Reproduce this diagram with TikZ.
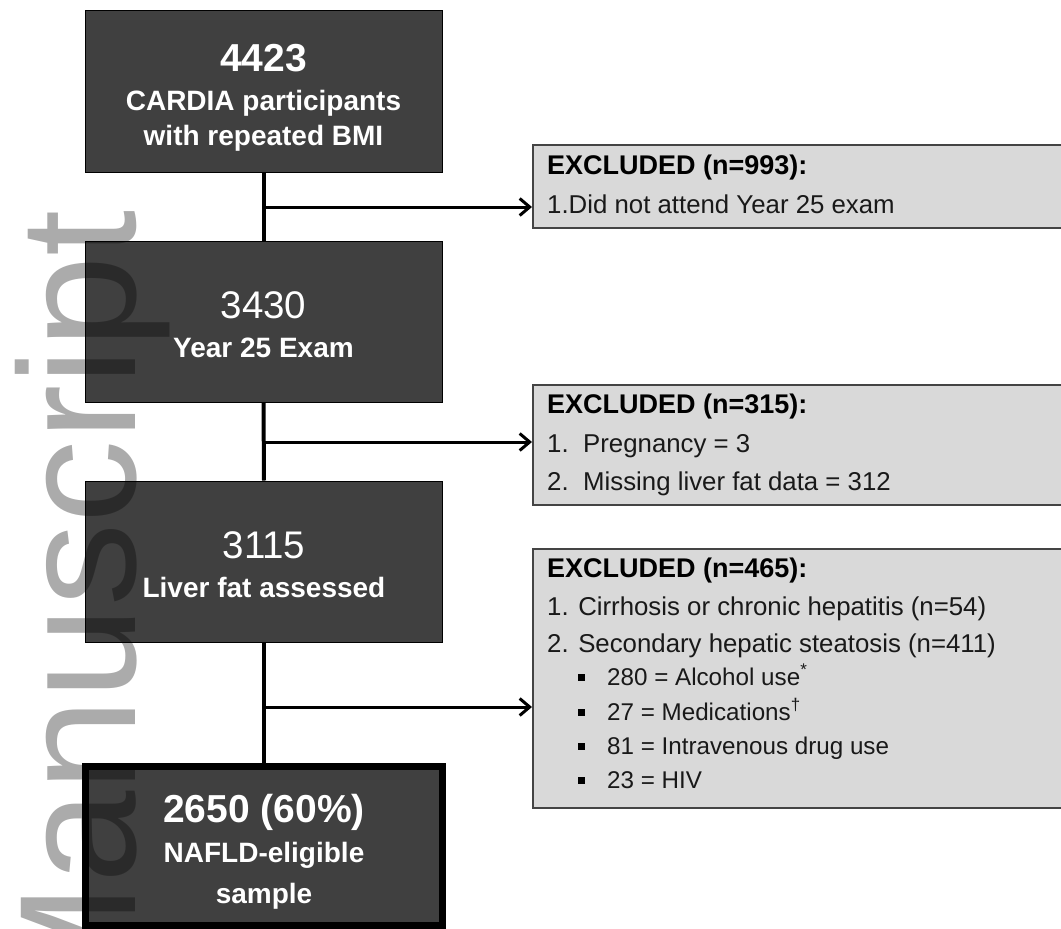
\documentclass[tikz,border=0pt]{standalone}
\usepackage{fontspec}
\setmainfont{Liberation Sans}
\usetikzlibrary{arrows.meta}
\definecolor{darkbox}{HTML}{404040}
\definecolor{lightbox}{HTML}{D9D9D9}
\definecolor{lightedge}{HTML}{444444}
\tikzset{
  stagebox/.style={draw=black, line width=1pt, fill=darkbox, inner sep=0pt,
    minimum width=357pt, minimum height=161pt},
  finalbox/.style={draw=black, line width=7pt, fill=darkbox, inner sep=0pt,
    minimum width=357pt, minimum height=159pt},
  exbox/.style={draw=lightedge, line width=1.8pt, fill=lightbox, inner sep=0pt,
    minimum width=600pt, anchor=north west},
  numbold/.style={text=white, anchor=base, inner sep=0pt,
    font=\fontsize{39}{39}\selectfont\bfseries},
  numreg/.style={text=white, anchor=base, inner sep=0pt,
    font=\fontsize{38.5}{39}\selectfont},
  lblbold/.style={text=white, anchor=base, inner sep=0pt,
    font=\fontsize{28}{28}\selectfont\bfseries},
  exhead/.style={text=black, anchor=base west, inner sep=0pt,
    font=\fontsize{27}{27}\selectfont\bfseries},
  exitem/.style={text=black!90, anchor=base west, inner sep=0pt,
    font=\fontsize{25.8}{26}\selectfont},
  subitem/.style={text=black!90, anchor=base west, inner sep=0pt,
    font=\fontsize{24.2}{24}\selectfont},
  sqbullet/.style={fill=black, inner sep=0pt, minimum size=7pt},
  vline/.style={draw=black, line width=4pt},
  exarrow/.style={draw=black, line width=3pt,
    -{Straight Barb[length=10pt,width=17pt,line width=3pt]}},
  watermark/.style={rotate=90, anchor=base east, inner sep=0pt, text=black,
    text opacity=0.33, font=\fontsize{166}{166}\selectfont}
}
\begin{document}
\begin{tikzpicture}[x=1pt,y=-1pt]
\useasboundingbox (0,0) rectangle (1061,929);
\clip (0,0) rectangle (1061,929);
\fill[white] (0,0) rectangle (1061,929);

% main flow boxes
\node[stagebox, minimum height=162pt] (b1) at (263.5,91) {};
\node[stagebox] (b2) at (263.5,321.5) {};
\node[stagebox] (b3) at (264,561.5) {};
\node[finalbox] (b4) at (264,846) {};

\node[numbold] (t1a) at (263.5,71) {4423};
\node[lblbold] (t1b) at (263.5,110) {CARDIA participants};
\node[lblbold] (t1c) at (263.5,145) {with repeated BMI};
\node[numreg] (t2a) at (263.5,318) {3430};
\node[lblbold] (t2b) at (263.5,357) {Year 25 Exam};
\node[numreg] (t3a) at (264,558) {3115};
\node[lblbold] (t3b) at (264,597) {Liver fat assessed};
\node[numbold] (t4a) at (264,822) {2650 (60\%)};
\node[lblbold] (t4b) at (264,862) {NAFLD-eligible};
\node[lblbold] (t4c) at (264,903) {sample};

% exclusion boxes
\node[exbox, minimum height=83pt] (exA) at (532,144) {};
\node[exbox, minimum height=120pt] (exB) at (532,384) {};
\node[exbox, minimum height=259pt] (exC) at (532,548) {};

\node[exhead] (hA) at (547,174) {EXCLUDED (n=993):};
\node[exitem] (iA1) at (547,213) {1.Did not attend Year 25 exam};

\node[exhead] (hB) at (547,413) {EXCLUDED (n=315):};
\node[exitem] (iB1) at (547,452) {\makebox[36pt][l]{1.}Pregnancy = 3};
\node[exitem] (iB2) at (547,490) {\makebox[36pt][l]{2.}Missing liver fat data = 312};

\node[exhead] (hC) at (547,577) {EXCLUDED (n=465):};
\node[exitem] (iC1) at (547,615) {1. Cirrhosis or chronic hepatitis (n=54)};
\node[exitem] (iC2) at (547,652) {2. Secondary hepatic steatosis (n=411)};
\node[sqbullet] (q1) at (581.5,677.5) {};
\node[subitem] (s1) at (607,685) {280 = Alcohol use\textsuperscript{*}};
\node[sqbullet] (q2) at (581.5,712.5) {};
\node[subitem] (s2) at (607,720) {27 = Medications\textsuperscript{\textdagger}};
\node[sqbullet] (q3) at (581.5,746.5) {};
\node[subitem] (s3) at (607,754) {81 = Intravenous drug use};
\node[sqbullet] (q4) at (581.5,780.5) {};
\node[subitem] (s4) at (607,788) {23 = HIV};

% connectors
\draw[vline] (b1.south) -- (b2.north);
\draw[vline] (b2.south) -- (b3.north);
\draw[vline] (b3.south) -- (b4.north);
\coordinate (j1) at (263.5,207);
\coordinate (j2) at (263.5,442);
\coordinate (j3) at (264,707);
\draw[exarrow] (j1) -- (j1 -| exA.west);
\draw[exarrow] (j2) -- (j2 -| exB.west);
\draw[exarrow] (j3) -- (j3 -| exC.west);

% watermark
\node[watermark] (wm) at (135,210) {Manuscript};
\end{tikzpicture}
\end{document}
